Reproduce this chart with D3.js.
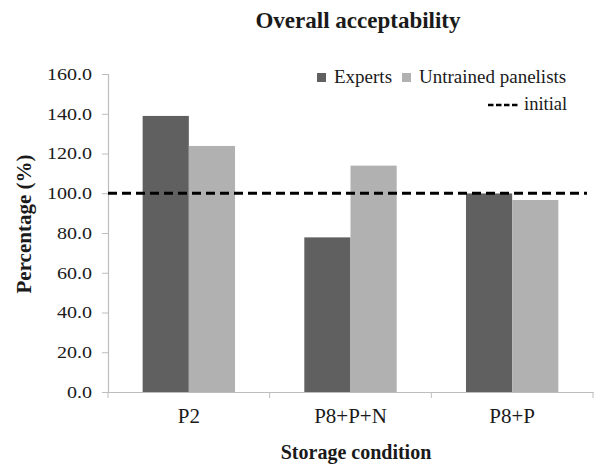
<!DOCTYPE html>
<html>
<head>
<meta charset="utf-8">
<script src="https://cdn.jsdelivr.net/npm/d3@7"></script>
<style>
  html, body { margin: 0; padding: 0; background: #fff; }
</style>
</head>
<body>
<svg id="chart" width="597" height="464"></svg>
<script>
// Storage conditions and acceptability scores (% of initial)
const categories = ["P2", "P8+P+N", "P8+P"];
const seriesNames = ["Experts", "Untrained panelists"];
const experts = [138.9, 77.8, 99.9];
const untrained = [123.8, 113.9, 96.6];
const yTicks = [0, 20, 40, 60, 80, 100, 120, 140, 160];
const initialLevel = 100;

const colors = ["#606060", "#b1b1b1"];
const SERIF = '"Liberation Serif", "Times New Roman", "DejaVu Serif", serif';
const INK = "#1a1a1a";

const svg = d3.select("#chart");
const margin = { left: 108, right: 4, top: 74, bottom: 72 };
const W = 597, H = 464;
const plotW = W - margin.left - margin.right;
const plotH = H - margin.top - margin.bottom;

const g = svg.append("g").attr("transform", `translate(${margin.left},${margin.top})`);

const x0 = d3.scaleBand().domain(categories).range([0, plotW]).paddingInner(0).paddingOuter(0);
const x1 = d3.scaleBand().domain(seriesNames).range([0, x0.bandwidth()]).paddingInner(0).paddingOuter(0.75);
const y = d3.scaleLinear().domain([0, 160]).range([plotH, 0]);

const rows = categories.map((c, i) => ({ cat: c, vals: [experts[i], untrained[i]] }));

// Bars
const groups = g.selectAll(".grp").data(rows).join("g")
  .attr("transform", d => `translate(${x0(d.cat)},0)`);
groups.selectAll("rect").data(d => d.vals.map((v, k) => ({ v, k })))
  .join("rect")
  .attr("x", d => x1(seriesNames[d.k]))
  .attr("width", x1.bandwidth())
  .attr("y", d => y(d.v))
  .attr("height", d => y(0) - y(d.v))
  .attr("fill", d => colors[d.k]);

// Y axis
const yAxis = g.append("g").call(
  d3.axisLeft(y).tickValues(yTicks).tickFormat(d3.format(".1f")).tickSize(6).tickPadding(10)
);
yAxis.select(".domain").attr("stroke", "#bdbdbd").attr("stroke-width", 1.2);
yAxis.selectAll(".tick line").attr("stroke", "#bdbdbd");
yAxis.selectAll(".tick text")
  .style("font-family", SERIF).style("font-size", "17px").attr("fill", INK)
  .each(function () {
    // the numerals are set a little wide
    const len = this.getComputedTextLength();
    d3.select(this).attr("textLength", len * 1.18).attr("lengthAdjust", "spacingAndGlyphs");
  });

// X axis with tick marks at category boundaries
const xAxis = g.append("g").attr("transform", `translate(0,${plotH})`)
  .call(d3.axisBottom(x0).tickSize(0).tickPadding(16));
xAxis.select(".domain").attr("stroke", "#bdbdbd").attr("stroke-width", 1.2);
xAxis.selectAll(".tick text").style("font-family", SERIF).style("font-size", "21px").attr("fill", INK);
const bounds = categories.map(c => x0(c)).concat([plotW]);
g.append("g").selectAll("line").data(bounds).join("line")
  .attr("x1", d => d).attr("x2", d => d)
  .attr("y1", plotH).attr("y2", plotH + 6)
  .attr("stroke", "#bdbdbd");

// Reference line at initial level
g.append("line")
  .attr("x1", 0).attr("x2", plotW - 6)
  .attr("y1", y(initialLevel)).attr("y2", y(initialLevel))
  .attr("stroke", "#000").attr("stroke-width", 3)
  .attr("stroke-dasharray", "9,5");

// Title and axis titles
svg.append("text").attr("x", 358).attr("y", 28).attr("text-anchor", "middle")
  .style("font-family", SERIF).style("font-size", "23px").style("font-weight", "bold").attr("fill", INK)
  .text("Overall acceptability");
svg.append("text").attr("x", 356).attr("y", 459).attr("text-anchor", "middle")
  .style("font-family", SERIF).style("font-size", "20px").style("font-weight", "bold").attr("fill", INK)
  .text("Storage condition");
svg.append("text").attr("transform", "translate(31,224) rotate(-90)")
  .attr("text-anchor", "middle")
  .style("font-family", SERIF).style("font-size", "21px").style("font-weight", "bold").attr("fill", INK)
  .text("Percentage (%)");

// Legend
const legend = svg.append("g");
const legendItems = [
  { name: seriesNames[0], color: colors[0], x: 317 },
  { name: seriesNames[1], color: colors[1], x: 402 }
];
legendItems.forEach(it => {
  legend.append("rect").attr("x", it.x).attr("y", 73).attr("width", 9).attr("height", 9).attr("fill", it.color);
  legend.append("text").attr("x", it.x + 17).attr("y", 83)
    .style("font-family", SERIF).style("font-size", "19px").attr("fill", INK).text(it.name);
});
legend.append("line").attr("x1", 488).attr("x2", 518).attr("y1", 105).attr("y2", 105)
  .attr("stroke", "#000").attr("stroke-width", 2.5).attr("stroke-dasharray", "5.5,2.5");
legend.append("text").attr("x", 524).attr("y", 110)
  .style("font-family", SERIF).style("font-size", "18.5px").attr("fill", INK).text("initial");
</script>
</body>
</html>
